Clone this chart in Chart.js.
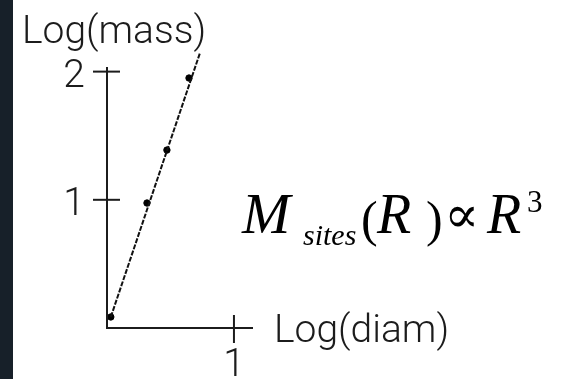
<!DOCTYPE html>
<html>
<head>
<meta charset="utf-8">
<title>Log(mass) vs Log(diam)</title>
<script src="https://cdn.jsdelivr.net/npm/chart.js@4/dist/chart.umd.min.js"></script>
<style>
  html, body { margin: 0; padding: 0; background: #ffffff; }
  #wrap { position: relative; width: 570px; height: 379px; overflow: hidden; }
  canvas { display: block; }
</style>
</head>
<body>
<div id="wrap"><canvas id="chart" width="570" height="379"></canvas></div>
<script>
// Measured sites: log(diameter) and log(mass)
const logDiam = [0.03, 0.315, 0.472, 0.646];
const logMass = [0.086, 0.975, 1.388, 1.95];

// Fitted power-law line (slope ~3)
const fitDiam = [0.03, 0.732];
const fitMass = [0.086, 2.145];

// Axis ticks and labels
const xTicks = [1];
const yTicks = [1, 2];
const xTitle = 'Log(diam)';
const yTitle = 'Log(mass)';

const INK = '#1c1c1c';
const SANS = 'Roboto, "Liberation Sans", sans-serif';
const SANS_FONT = '300 39px ' + SANS;
const SERIF = '"Liberation Serif", "Times New Roman", serif';

const pointData = logDiam.map((x, i) => ({ x, y: logMass[i] }));
const fitData = fitDiam.map((x, i) => ({ x, y: fitMass[i] }));

// Dark strip down the left edge
const sideStrip = {
  id: 'sideStrip',
  beforeDraw(chart) {
    const ctx = chart.ctx;
    ctx.save();
    ctx.fillStyle = '#172029';
    ctx.fillRect(0, 0, 13, chart.height);
    ctx.restore();
  }
};

// Cross-shaped axes with ticks through the axis lines
const crossAxes = {
  id: 'crossAxes',
  afterDatasetsDraw(chart) {
    const { ctx, scales: { x, y } } = chart;
    const x0 = x.getPixelForValue(0);
    const y0 = y.getPixelForValue(0);
    const top = chart.chartArea.top;
    const right = chart.chartArea.right;
    ctx.save();
    ctx.strokeStyle = INK;
    ctx.lineWidth = 2;
    ctx.beginPath();
    ctx.moveTo(x0, top);
    ctx.lineTo(x0, y0);
    ctx.lineTo(right, y0);
    ctx.stroke();

    ctx.fillStyle = INK;
    ctx.font = SANS_FONT;

    yTicks.forEach(v => {
      const py = y.getPixelForValue(v);
      ctx.beginPath();
      ctx.moveTo(x0 - 14, py);
      ctx.lineTo(x0 + 13, py);
      ctx.stroke();
      ctx.textAlign = 'right';
      ctx.textBaseline = 'alphabetic';
      ctx.fillText(String(v), x0 - 22, py + 15);
    });

    xTicks.forEach(v => {
      const px = x.getPixelForValue(v);
      ctx.beginPath();
      ctx.moveTo(px, y0 - 13);
      ctx.lineTo(px, y0 + 15);
      ctx.stroke();
      ctx.textAlign = 'center';
      ctx.textBaseline = 'alphabetic';
      ctx.fillText(String(v), px, y0 + 48);
    });

    ctx.textAlign = 'left';
    ctx.fillText(yTitle, 22, 43);
    ctx.fillText(xTitle, right + 21, y0 + 14);
    ctx.restore();
  }
};

// Scaling law written beside the plot
const scalingLaw = {
  id: 'scalingLaw',
  afterDraw(chart) {
    const ctx = chart.ctx;
    ctx.save();
    ctx.fillStyle = '#000';
    ctx.textAlign = 'left';
    ctx.textBaseline = 'alphabetic';
    const parts = [
      { t: 'M', font: 'italic 58px ' + SERIF, x: 242, y: 233 },
      { t: 'sites', font: 'italic 30px ' + SERIF, x: 303, y: 245 },
      { t: '(', font: '50px ' + SERIF, x: 361, y: 236 },
      { t: 'R', font: 'italic 56px ' + SERIF, x: 377, y: 233 },
      { t: ')', font: '50px ' + SERIF, x: 426, y: 236 },
      { t: '\u221D', font: '52px "DejaVu Serif", serif', x: 444, y: 232 },
      { t: 'R', font: 'italic 56px ' + SERIF, x: 487, y: 233 },
      { t: '3', font: '31px ' + SERIF, x: 527, y: 212 }
    ];
    parts.forEach(p => {
      ctx.font = p.font;
      ctx.fillText(p.t, p.x, p.y);
    });
    ctx.restore();
  }
};

function drawChart() {
  new Chart(document.getElementById('chart'), {
    type: 'scatter',
    data: {
      datasets: [
        {
          label: 'fit',
          data: fitData,
          showLine: true,
          borderColor: '#111',
          borderWidth: 2,
          borderDash: [5, 1.5],
          pointRadius: 0,
          clip: false
        },
        {
          label: 'sites',
          data: pointData,
          backgroundColor: '#000',
          borderColor: '#000',
          pointRadius: 3.2,
          pointHoverRadius: 3.2,
          clip: false
        }
      ]
    },
    options: {
      responsive: false,
      animation: false,
      events: [],
      layout: { padding: { left: 107, right: 317, top: 67, bottom: 51 } },
      plugins: { legend: { display: false }, tooltip: { enabled: false } },
      scales: {
        x: { type: 'linear', min: 0, max: 1.15, display: false },
        y: { type: 'linear', min: 0, max: 2.036, display: false }
      }
    },
    plugins: [sideStrip, crossAxes, scalingLaw]
  });
}

// Make sure the light face is ready before painting on the canvas
if (document.fonts && document.fonts.load) {
  document.fonts.load(SANS_FONT, 'Log(mass)').then(drawChart, drawChart);
} else {
  drawChart();
}
</script>
</body>
</html>
